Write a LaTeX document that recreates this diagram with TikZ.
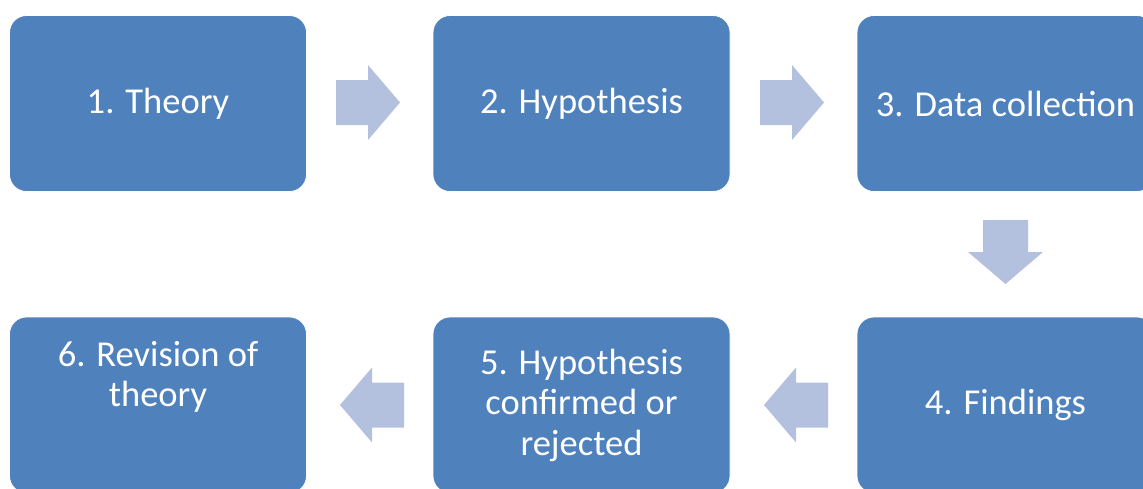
\documentclass[tikz,border=0pt]{standalone}
\usepackage{fontspec}
\setmainfont{Carlito}
\definecolor{boxblue}{HTML}{4F81BD}
\definecolor{arrowblue}{HTML}{B3C1DE}
\begin{document}
\begin{tikzpicture}[x=1pt,y=-1pt]
\tikzset{
  stage/.style={rectangle, fill=boxblue, draw=white, line width=0.8pt,
    rounded corners=17pt, minimum width=297pt, minimum height=176pt,
    inner sep=0pt, text=white, align=center,
    font=\fontsize{36.5}{40.5}\selectfont},
  stagetext/.style={text=white, align=center, inner sep=0pt,
    font=\fontsize{36.5}{40.5}\selectfont},
  pics/flowarrow/.style={code={
    \fill[arrowblue] (-32,-22.5) -- (0,-22.5) -- (0,-37.5) -- (32,0)
      -- (0,37.5) -- (0,22.5) -- (-32,22.5) -- cycle;}}
}
\useasboundingbox (0,0) rectangle (1143,488);
\clip (0,0) rectangle (1143,488);

% process stages
\node[stage] (b1) at (158,103.5) {1. Theory};
\node[stage] (b2) at (581.5,103.5) {2. Hypothesis};
\node[stage] (b3) at (1005.5,103.5) {3. Data collection};
\node[stage] (b4) at (1005.5,405) {4. Findings};
\node[stage] (b5) at (581.5,405) {5. Hypothesis\\confirmed or\\rejected};
\node[stage] (b6) at (158,405) {};
\node[stagetext] (t6) at (158,377) {6. Revision of\\theory};

% block arrows between stages
\pic at (368,102.5) {flowarrow};
\pic at (792,102.5) {flowarrow};
\pic[rotate=-90] at (1005.5,252) {flowarrow};
\pic[rotate=180] at (796,405) {flowarrow};
\pic[rotate=180] at (372,405) {flowarrow};
\end{tikzpicture}
\end{document}
